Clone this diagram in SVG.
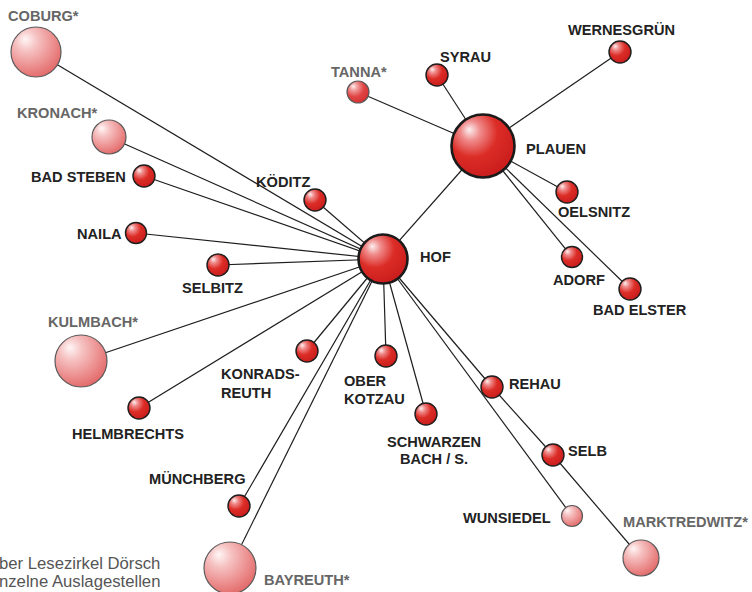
<svg xmlns="http://www.w3.org/2000/svg" width="752" height="592" viewBox="0 0 752 592">
<defs>
<radialGradient id="gRed" cx="0.38" cy="0.32" r="0.72" fx="0.28" fy="0.24">
<stop offset="0" stop-color="#fdf0f0"/>
<stop offset="0.22" stop-color="#ef8a8a"/>
<stop offset="0.55" stop-color="#dc2c26"/>
<stop offset="1" stop-color="#c81c1c"/>
</radialGradient>
<radialGradient id="gPale" cx="0.38" cy="0.32" r="0.72" fx="0.28" fy="0.24">
<stop offset="0" stop-color="#fff6f6"/>
<stop offset="0.3" stop-color="#f6c2c2"/>
<stop offset="0.7" stop-color="#ec8e8e"/>
<stop offset="1" stop-color="#e26868"/>
</radialGradient>
<radialGradient id="gMid" cx="0.38" cy="0.32" r="0.72" fx="0.28" fy="0.24">
<stop offset="0" stop-color="#fdeeee"/>
<stop offset="0.25" stop-color="#f09a9a"/>
<stop offset="0.6" stop-color="#e04444"/>
<stop offset="1" stop-color="#d43030"/>
</radialGradient>
</defs>
<style>
.c { stroke:#1e1e1e; stroke-width:1.2; fill:none; }
.n { fill:url(#gRed); stroke:#1e1e1e; stroke-width:1.4; }
.big { fill:url(#gRed); stroke:#1a1a1a; stroke-width:2.6; }
.p { fill:url(#gPale); stroke:#5a5a5a; stroke-width:1.2; }
.m { fill:url(#gMid); stroke:#5a5a5a; stroke-width:1.2; }
text { font-family:"Liberation Sans", Arial, sans-serif; font-weight:bold; font-size:14.6px; fill:#222; }
text.g { fill:#666; }
text.note { font-weight:normal; font-size:16.7px; fill:#555; }
</style>
<g id="connectors">
<line class="c" x1="383" y1="259" x2="36" y2="52"/>
<line class="c" x1="383" y1="259" x2="109" y2="137"/>
<line class="c" x1="383" y1="259" x2="144" y2="176"/>
<line class="c" x1="383" y1="259" x2="136" y2="233"/>
<line class="c" x1="383" y1="259" x2="218" y2="265"/>
<line class="c" x1="383" y1="259" x2="81" y2="361"/>
<line class="c" x1="383" y1="259" x2="139" y2="408"/>
<line class="c" x1="383" y1="259" x2="315" y2="200"/>
<line class="c" x1="383" y1="259" x2="307" y2="351"/>
<line class="c" x1="383" y1="259" x2="239" y2="506"/>
<line class="c" x1="383" y1="259" x2="230" y2="568"/>
<line class="c" x1="383" y1="259" x2="386" y2="356"/>
<line class="c" x1="383" y1="259" x2="426" y2="414"/>
<line class="c" x1="383" y1="259" x2="492" y2="387"/>
<line class="c" x1="492" y1="387" x2="553" y2="455"/>
<line class="c" x1="553" y1="455" x2="641" y2="558"/>
<line class="c" x1="383" y1="259" x2="572" y2="516"/>
<line class="c" x1="383" y1="259" x2="483" y2="146"/>
<line class="c" x1="483" y1="146" x2="358" y2="92"/>
<line class="c" x1="483" y1="146" x2="437" y2="75"/>
<line class="c" x1="483" y1="146" x2="620" y2="52"/>
<line class="c" x1="483" y1="146" x2="567" y2="192"/>
<line class="c" x1="483" y1="146" x2="572" y2="257"/>
<line class="c" x1="483" y1="146" x2="630" y2="289"/>
</g>
<g id="hof"><circle class="big" cx="383" cy="259" r="24.5"/><text x="420" y="262">HOF</text></g>
<g id="plauen"><circle class="big" cx="483" cy="146" r="31.5"/><text x="526" y="154">PLAUEN</text></g>
<g id="coburg"><circle class="p" cx="36" cy="52" r="25"/><text class="g" x="8" y="21">COBURG*</text></g>
<g id="kronach"><circle class="p" cx="109" cy="137" r="17"/><text class="g" x="17" y="118">KRONACH*</text></g>
<g id="badsteben"><circle class="n" cx="144" cy="176" r="11"/><text x="31" y="182">BAD STEBEN</text></g>
<g id="naila"><circle class="n" cx="136" cy="233" r="10.5"/><text x="77" y="239">NAILA</text></g>
<g id="selbitz"><circle class="n" cx="218" cy="265" r="11"/><text x="182" y="293">SELBITZ</text></g>
<g id="kulmbach"><circle class="p" cx="81" cy="361" r="26"/><text class="g" x="48" y="327">KULMBACH*</text></g>
<g id="helmbrechts"><circle class="n" cx="139" cy="408" r="11"/><text x="72" y="439">HELMBRECHTS</text></g>
<g id="koeditz"><circle class="n" cx="315" cy="200" r="11"/><text x="256" y="187">KÖDITZ</text></g>
<g id="konradsreuth"><circle class="n" cx="307" cy="351" r="11"/><text x="221" y="379">KONRADS-</text><text x="221" y="398">REUTH</text></g>
<g id="oberkotzau"><circle class="n" cx="386" cy="356" r="11"/><text x="344" y="386">OBER</text><text x="344" y="404">KOTZAU</text></g>
<g id="schwarzenbach"><circle class="n" cx="426" cy="414" r="11"/><text x="434" y="447" text-anchor="middle">SCHWARZEN</text><text x="434" y="464" text-anchor="middle">BACH / S.</text></g>
<g id="rehau"><circle class="n" cx="492" cy="387" r="11"/><text x="509" y="389">REHAU</text></g>
<g id="selb"><circle class="n" cx="553" cy="455" r="11"/><text x="568" y="456">SELB</text></g>
<g id="wunsiedel"><circle class="p" cx="572" cy="516" r="10.5"/><text x="463" y="523">WUNSIEDEL</text></g>
<g id="marktredwitz"><circle class="p" cx="641" cy="558" r="18"/><text class="g" x="623" y="527">MARKTREDWITZ*</text></g>
<g id="muenchberg"><circle class="n" cx="239" cy="506" r="11"/><text x="149" y="484">MÜNCHBERG</text></g>
<g id="bayreuth"><circle class="p" cx="230" cy="568" r="26"/><text class="g" x="264" y="585">BAYREUTH*</text></g>
<g id="tanna"><circle class="m" cx="358" cy="92" r="11"/><text class="g" x="331" y="77">TANNA*</text></g>
<g id="syrau"><circle class="n" cx="437" cy="75" r="11"/><text x="440" y="62">SYRAU</text></g>
<g id="wernesgruen"><circle class="n" cx="620" cy="52" r="11"/><text x="568" y="35">WERNESGRÜN</text></g>
<g id="oelsnitz"><circle class="n" cx="567" cy="192" r="11"/><text x="558" y="217">OELSNITZ</text></g>
<g id="adorf"><circle class="n" cx="572" cy="257" r="10.5"/><text x="553" y="285">ADORF</text></g>
<g id="badelster"><circle class="n" cx="630" cy="289" r="11"/><text x="593" y="315">BAD ELSTER</text></g>
<g id="note"><text class="note" x="-1" y="569">ber Lesezirkel Dörsch</text><text class="note" x="-1" y="587">nzelne Auslagestellen</text></g>
</svg>
